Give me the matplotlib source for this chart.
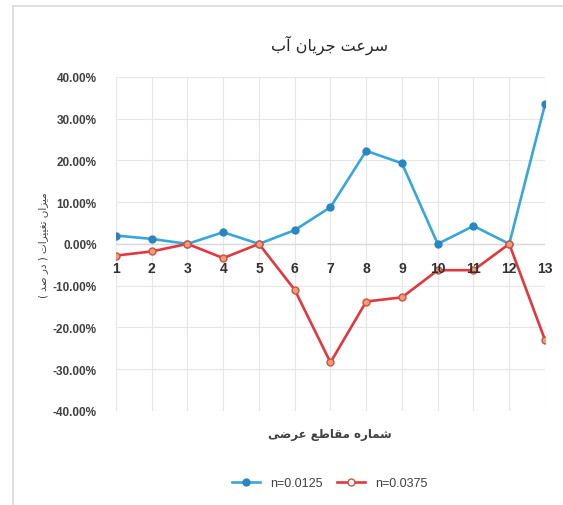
import matplotlib
matplotlib.use("Agg")
import matplotlib.pyplot as plt
from matplotlib.lines import Line2D
from matplotlib.ticker import PercentFormatter

# داده ها (درصد تغییرات)
sections = list(range(1, 14))
n_0125 = [2.0, 1.2, 0.0, 2.8, 0.0, 3.3, 8.8, 22.3, 19.3, 0.0, 4.3, 0.0, 33.4]
n_0375 = [-2.8, -1.8, 0.0, -3.4, 0.0, -11.0, -28.4, -13.8, -12.8, -6.3, -6.3, 0.0, -23.0]
series_names = ["n=0.0125", "n=0.0375"]
y_ticks = [-40, -30, -20, -10, 0, 10, 20, 30, 40]

title_txt = "سرعت جریان آب"
xlabel_txt = "شماره مقاطع عرضی"
ylabel_txt = "میزان تغییرات ( در صد )"

# matplotlib حروف فارسی را به هم نمی چسباند، پس شکل حروف را خودمان انتخاب می کنیم
FORMS = {
    "ا": ("\uFE8D", "\uFE8E", None, None),
    "آ": ("\uFE81", "\uFE82", None, None),
    "ب": ("\uFE8F", "\uFE90", "\uFE91", "\uFE92"),
    "ت": ("\uFE95", "\uFE96", "\uFE97", "\uFE98"),
    "ج": ("\uFE9D", "\uFE9E", "\uFE9F", "\uFEA0"),
    "د": ("\uFEA9", "\uFEAA", None, None),
    "ر": ("\uFEAD", "\uFEAE", None, None),
    "ز": ("\uFEAF", "\uFEB0", None, None),
    "س": ("\uFEB1", "\uFEB2", "\uFEB3", "\uFEB4"),
    "ش": ("\uFEB5", "\uFEB6", "\uFEB7", "\uFEB8"),
    "ص": ("\uFEB9", "\uFEBA", "\uFEBB", "\uFEBC"),
    "ض": ("\uFEBD", "\uFEBE", "\uFEBF", "\uFEC0"),
    "ط": ("\uFEC1", "\uFEC2", "\uFEC3", "\uFEC4"),
    "ع": ("\uFEC9", "\uFECA", "\uFECB", "\uFECC"),
    "غ": ("\uFECD", "\uFECE", "\uFECF", "\uFED0"),
    "ق": ("\uFED5", "\uFED6", "\uFED7", "\uFED8"),
    "م": ("\uFEE1", "\uFEE2", "\uFEE3", "\uFEE4"),
    "ن": ("\uFEE5", "\uFEE6", "\uFEE7", "\uFEE8"),
    "ه": ("\uFEE9", "\uFEEA", "\uFEEB", "\uFEEC"),
    "ی": ("\uFBFC", "\uFBFD", "\uFBFE", "\uFBFF"),
}


def fa(text):
    out = []
    for i, ch in enumerate(text):
        if ch not in FORMS:
            out.append(ch)
            continue
        prev = text[i - 1] if i > 0 else ""
        nxt = text[i + 1] if i + 1 < len(text) else ""
        iso, fin, ini, med = FORMS[ch]
        jp = prev in FORMS and FORMS[prev][2] is not None
        jn = nxt in FORMS and ini is not None
        if jp and jn:
            out.append(med)
        elif jp:
            out.append(fin)
        elif jn:
            out.append(ini)
        else:
            out.append(iso)
    vis = "".join(reversed(out))
    return vis.translate(str.maketrans("()", ")("))


plt.rcParams["axes.unicode_minus"] = False
num_font = ["Liberation Sans", "DejaVu Sans"]

fig = plt.figure(figsize=(5.63, 5.06), dpi=100)
ax = fig.add_axes([0.206, 0.186, 0.762, 0.660])

# قاب دور نمودار (فقط بالا و چپ دیده می شود)
fig.add_artist(Line2D([13 / 563, 1.0], [1 - 7 / 506] * 2, transform=fig.transFigure,
                      color="#d9d9d9", linewidth=1.2))
fig.add_artist(Line2D([13 / 563] * 2, [0.0, 1 - 7 / 506], transform=fig.transFigure,
                      color="#d9d9d9", linewidth=1.2))

ax.plot(sections, n_0125, color="#38a6d9", linewidth=1.9, marker="o",
        markersize=5, markerfacecolor="#2a86bf", markeredgecolor="#2a86bf",
        label=series_names[0], zorder=3)
ax.plot(sections, n_0375, color="#e0383e", linewidth=1.9, marker="o",
        markersize=5, markerfacecolor="#e8a070", markeredgecolor="#d0504a",
        label=series_names[1], zorder=3)

ax.set_xlim(1, 13)
ax.set_ylim(-40, 40)
ax.set_yticks(y_ticks)
ax.yaxis.set_major_formatter(PercentFormatter(decimals=2))
ax.set_xticks(sections)
ax.grid(True, color="#e6e6e6", linewidth=0.8)
ax.set_axisbelow(True)
for s in ax.spines.values():
    s.set_visible(False)
ax.axhline(0, color="#d9d9d9", linewidth=1.0, zorder=1)

ax.tick_params(length=0)
ax.tick_params(axis="y", pad=14)
for lab in ax.get_yticklabels():
    lab.set_fontfamily(num_font)
    lab.set_fontsize(8.5)
    lab.set_fontweight("bold")
    lab.set_color("#404040")

# برچسب های محور افقی زیر خط صفر
ax.set_xticklabels([])
for s in sections:
    ax.text(s, -4.0, str(s), ha="center", va="top", fontsize=10,
            family=num_font, fontweight="bold", color="#303030")

fig.text(0.586, 0.91, fa(title_txt), ha="center", va="center",
         fontsize=11.5, family="DejaVu Sans", color="#262626")
fig.text(0.586, 0.141, fa(xlabel_txt), ha="center", va="center",
         fontsize=8.5, family="DejaVu Sans", fontweight="bold", color="#404040")
fig.text(0.076, 0.515, fa(ylabel_txt), ha="center", va="center", rotation=90,
         fontsize=7.5, family="DejaVu Sans", color="#404040")

leg = fig.legend(loc="center", bbox_to_anchor=(0.586, 0.043), ncol=2,
                 frameon=False, fontsize=9, handlelength=2.2, columnspacing=1.2)
for t in leg.get_texts():
    t.set_fontfamily(num_font)
    t.set_color("#404040")
leg.legend_handles[1].set_markerfacecolor("white")

fig.savefig("out.png", dpi=100)
